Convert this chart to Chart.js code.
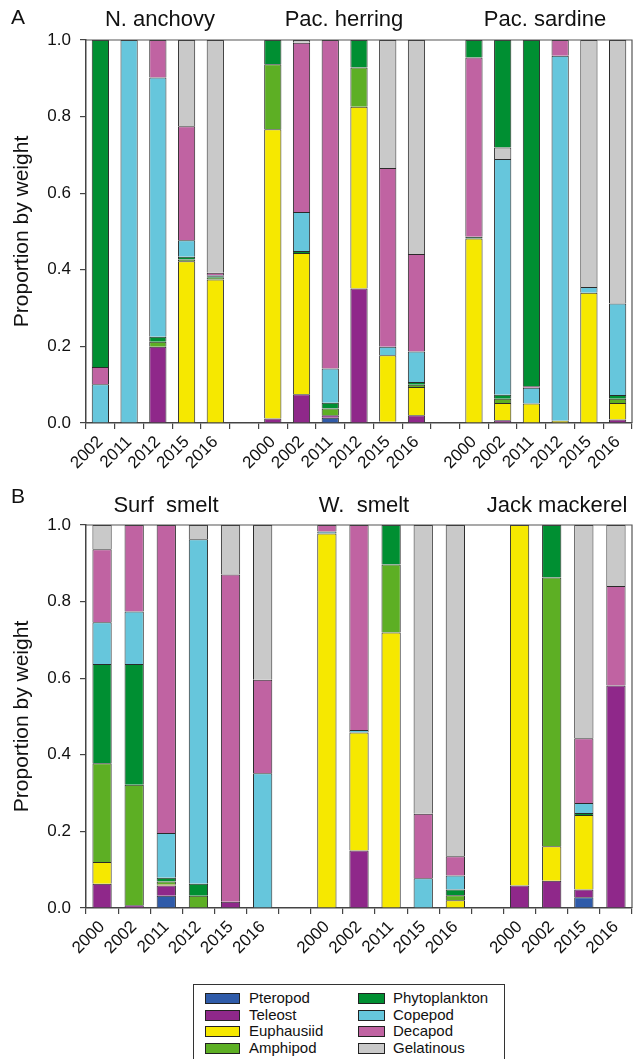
<!DOCTYPE html>
<html>
<head>
<meta charset="utf-8">
<script src="https://cdn.jsdelivr.net/npm/chart.js@4.4.1/dist/chart.umd.min.js"></script>
<style>
  body { margin: 0; background: #fff; width: 637px; height: 1059px; overflow: hidden; font-family: "Liberation Sans", Arial, sans-serif; }
  .panel { position: absolute; left: 0; }
  #legend { position: absolute; left: 193px; top: 984px; width: 312px; height: 80px; border: 1.5px solid #333; box-sizing: border-box; }
  .item { position: absolute; font-size: 15px; color: #111; line-height: 16px; }
  .sw { position: absolute; top: 2px; height: 11px; border: 1px solid #222; box-sizing: border-box; }
</style>
</head>
<body>
<div class="panel" style="top:0"><canvas id="chartA" width="637" height="480"></canvas></div>
<div class="panel" style="top:480px"><canvas id="chartB" width="637" height="480"></canvas></div>
<div id="legend"></div>

<script>
// categories of prey, bottom to top in each stacked bar
var preyNames = ['Pteropod', 'Teleost', 'Euphausiid', 'Amphipod', 'Phytoplankton', 'Copepod', 'Decapod', 'Gelatinous'];
var preyColors = ['#2f5ba9', '#8f288a', '#f6e800', '#5daf24', '#008f32', '#66c6dc', '#c063a2', '#c9c9c9'];

// Panel A: N. anchovy | gap | Pac. herring | gap | Pac. sardine
var yearsA = ['2002', '2011', '2012', '2015', '2016', '', '2000', '2002', '2011', '2012', '2015', '2016', '', '2000', '2002', '2011', '2012', '2015', '2016'];
var pteropodA =  [0, 0, 0, 0, 0, 0,    0, 0, 0.014, 0, 0, 0,    0,  0, 0, 0, 0, 0, 0];
var teleostA =   [0, 0, 0.199, 0, 0, 0,    0.012, 0.075, 0.006, 0.351, 0.003, 0.02,    0,  0, 0.007, 0, 0, 0, 0.009];
var euphausiidA =[0, 0, 0, 0.422, 0.375, 0,    0.755, 0.369, 0, 0.475, 0.174, 0.074,    0,  0.482, 0.045, 0.051, 0.006, 0.34, 0.043];
var amphipodA =  [0, 0, 0.013, 0.005, 0.004, 0,    0.17, 0, 0.018, 0.102, 0, 0.006,    0,  0, 0.011, 0, 0, 0, 0.011];
var phytoA =     [0, 0, 0.013, 0.007, 0.004, 0,    0.063, 0.005, 0.015, 0.072, 0, 0.007,    0,  0.004, 0.011, 0, 0, 0, 0.01];
var copepodA =   [0.101, 1, 0.677, 0.043, 0.003, 0,    0, 0.102, 0.089, 0, 0.022, 0.08,    0,  0, 0.615, 0.041, 0.953, 0.015, 0.239];
var decapodA =   [0.045, 0, 0.098, 0.298, 0.006, 0,    0, 0.442, 0.858, 0, 0.467, 0.254,    0,  0.468, 0, 0.004, 0.041, 0, 0];
var gelatinousA =[0, 0, 0, 0.225, 0.608, 0,    0, 0.007, 0, 0, 0.334, 0.559,    0,  0, 0.03, 0, 0, 0.645, 0.688];
var phytoTopA =  [0.854, 0, 0, 0, 0, 0,    0, 0, 0, 0, 0, 0,    0,  0.046, 0.281, 0.904, 0, 0, 0];

// Panel B: Surf smelt | gap | W. smelt | gap | Jack mackerel
var yearsB = ['2000', '2002', '2011', '2012', '2015', '2016', '', '2000', '2002', '2011', '2015', '2016', '', '2000', '2002', '2015', '2016'];
var pteropodB =  [0, 0, 0.032, 0, 0, 0,    0,  0, 0, 0, 0, 0,    0,  0, 0, 0.028, 0];
var teleostB =   [0.063, 0.007, 0.027, 0, 0.016, 0,    0,  0, 0.15, 0, 0, 0,    0,  0.059, 0.071, 0.02, 0.581];
var euphausiidB =[0.057, 0, 0.003, 0, 0, 0,    0,  0.978, 0.308, 0.719, 0, 0.02,    0,  0.941, 0.09, 0.195, 0];
var amphipodB =  [0.258, 0.315, 0.007, 0.032, 0, 0,    0,  0, 0, 0.178, 0, 0.013,    0,  0, 0.702, 0, 0];
var phytoB =     [0.259, 0.315, 0.01, 0.031, 0, 0,    0,  0, 0, 0.103, 0, 0.015,    0,  0, 0.137, 0.005, 0];
var copepodB =   [0.109, 0.137, 0.117, 0.9, 0, 0.352,    0,  0.005, 0.007, 0, 0.078, 0.037,    0,  0, 0, 0.026, 0];
var decapodB =   [0.191, 0.226, 0.804, 0, 0.855, 0.244,    0,  0.017, 0.535, 0, 0.168, 0.05,    0,  0, 0, 0.169, 0.26];
var gelatinousB =[0.063, 0, 0, 0.037, 0.129, 0.404,    0,  0, 0, 0, 0.754, 0.865,    0,  0, 0, 0.557, 0.159];

var titlesA = ['N. anchovy', 'Pac. herring', 'Pac. sardine'];
var titlesB = ['Surf  smelt', 'W.  smelt', 'Jack mackerel'];

// layout (pixel positions of the titles)
var titleXA = [160, 344, 545];
var titleXB = [166, 364, 557];

var FONT = '"Liberation Sans", Arial, sans-serif';

var panelText = {
  id: 'panelText',
  afterDraw: function (chart) {
    var o = chart.options.plugins.panelText;
    var ctx = chart.ctx;
    var a = chart.chartArea;
    ctx.save();
    // frame round the plot
    ctx.strokeStyle = '#555';
    ctx.lineWidth = 1.2;
    ctx.beginPath();
    ctx.moveTo(a.left, a.top);
    ctx.lineTo(a.right, a.top);
    ctx.lineTo(a.right, a.bottom);
    ctx.stroke();
    ctx.fillStyle = '#111';
    ctx.textBaseline = 'middle';
    ctx.textAlign = 'center';
    ctx.font = '22px ' + FONT;
    o.titles.forEach(function (t, i) {
      ctx.fillText(t, o.titleX[i], o.titleY);
    });
    ctx.font = '21px ' + FONT;
    ctx.fillText(o.letter, 18, o.letterY);
    ctx.restore();
  }
};

function makeChart(id, years, series, top, xHeight, titles, titleX, titleY, letter, letterY) {
  var datasets = series.map(function (s) {
    return {
      label: s.name,
      data: s.values.map(function (v) { return v || null; }),
      backgroundColor: s.color,
      borderColor: '#2a2a2a',
      borderWidth: 1,
      borderSkipped: 'start',
      categoryPercentage: 1,
      barPercentage: 0.6
    };
  });
  return new Chart(document.getElementById(id), {
    type: 'bar',
    data: { labels: years, datasets: datasets },
    plugins: [panelText],
    options: {
      responsive: false,
      animation: false,
      layout: { padding: { top: top, right: 5, left: 0, bottom: 0 } },
      plugins: {
        legend: { display: false },
        tooltip: { enabled: false },
        panelText: { titles: titles, titleX: titleX, titleY: titleY, letter: letter, letterY: letterY }
      },
      scales: {
        x: {
          stacked: true,
          afterFit: function (s) { s.height = xHeight; },
          grid: { drawOnChartArea: false, drawTicks: true, tickLength: 6, color: '#444', lineWidth: 1.2 },
          border: { display: true, color: '#444', width: 1.5 },
          ticks: { autoSkip: false, minRotation: 45, maxRotation: 45, color: '#111', padding: 3, font: { size: 17, family: FONT } }
        },
        y: {
          stacked: true,
          min: 0,
          max: 1,
          afterFit: function (s) { s.width = 86; },
          grid: { drawOnChartArea: false, drawTicks: true, tickLength: 6, color: '#444', lineWidth: 1.2 },
          border: { display: true, color: '#444', width: 1.5 },
          ticks: {
            stepSize: 0.2, color: '#111', padding: 9, font: { size: 17, family: FONT },
            callback: function (v) { return v.toFixed(1); }
          },
          title: { display: true, text: 'Proportion by weight', color: '#111', padding: { top: 10, bottom: 0 }, font: { size: 21, family: FONT } }
        }
      }
    }
  });
}

function seriesList(arrs, extraTop) {
  var list = arrs.map(function (a, i) {
    return { name: preyNames[i], values: a, color: preyColors[i] };
  });
  if (extraTop) list.push({ name: 'Phytoplankton', values: extraTop, color: preyColors[4] });
  return list;
}

makeChart('chartA', yearsA,
  seriesList([pteropodA, teleostA, euphausiidA, amphipodA, phytoA, copepodA, decapodA, gelatinousA], phytoTopA),
  40, 57, titlesA, titleXA, 20, 'A', 18);

makeChart('chartB', yearsB,
  seriesList([pteropodB, teleostB, euphausiidB, amphipodB, phytoB, copepodB, decapodB, gelatinousB], null),
  45, 52, titlesB, titleXB, 26, 'B', 17);

// legend: two columns of four
var legend = document.getElementById('legend');
preyNames.forEach(function (name, i) {
  var col = Math.floor(i / 4), row = i % 4;
  var sw = document.createElement('div');
  sw.className = 'sw';
  sw.style.left = (col ? 164 : 11) + 'px';
  sw.style.width = (col ? 27 : 35) + 'px';
  sw.style.top = (8 + row * 16.7) + 'px';
  sw.style.background = preyColors[i];
  legend.appendChild(sw);
  var t = document.createElement('div');
  t.className = 'item';
  t.textContent = name;
  t.style.left = (col ? 199 : 55) + 'px';
  t.style.top = (5 + row * 16.7) + 'px';
  legend.appendChild(t);
});
</script>
</body>
</html>
